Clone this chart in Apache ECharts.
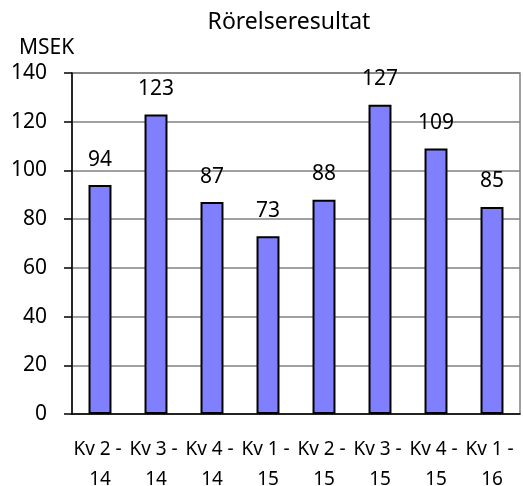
<!DOCTYPE html>
<html><head><meta charset="utf-8">
<script src="https://cdn.jsdelivr.net/npm/echarts@6/dist/echarts.min.js"></script>
<style>html,body{margin:0;padding:0;background:#fff}#c{width:523px;height:486px}</style>
</head><body><div id="c"></div>
<script>
const categories = ["Kv 2 - \n14","Kv 3 - \n14","Kv 4 - \n14","Kv 1 - \n15","Kv 2 - \n15","Kv 3 - \n15","Kv 4 - \n15","Kv 1 - \n16"];
const values = [94,123,87,73,88,127,109,85];
const yTicks = {min:0, max:140, interval:20};
const FONT = "Noto Sans";
const chart = echarts.init(document.getElementById('c'));
chart.setOption({
  animation:false,
  textStyle:{fontFamily:FONT},
  title:{text:"Rörelseresultat", left:284, textAlign:'center', top:6, textStyle:{fontFamily:FONT,fontSize:23,fontWeight:'normal',color:'#000'}},
  graphic:[{type:'text', left:19, top:38, style:{text:'MSEK', font:'21px "Noto Sans"', fill:'#000'}}],
  grid:{left:72, right:3, top:73, bottom:72, containLabel:false, outerBoundsMode:'none', show:true, borderColor:'#808080', borderWidth:1.5},
  xAxis:{type:'category', data:categories,
    axisLine:{lineStyle:{color:'#000',width:1.5}}, axisTick:{show:false},
    axisLabel:{color:'#000', fontSize:19, fontFamily:FONT, lineHeight:30, margin:21, interval:0}},
  yAxis:{type:'value', min:yTicks.min, max:yTicks.max, interval:yTicks.interval,
    axisLine:{show:true, lineStyle:{color:'#000',width:1.5}},
    axisTick:{show:true, length:8, lineStyle:{color:'#000',width:1.5}},
    splitLine:{lineStyle:{color:'#808080',width:1.5}},
    axisLabel:{color:'#000', fontSize:21, fontFamily:FONT, margin:25}},
  series:[{type:'bar', data:values, barWidth:'41%',
    itemStyle:{color:'#8080FF', borderColor:'#000', borderWidth:2},
    label:{show:true, position:'top', distance:15, color:'#000', fontSize:21, fontFamily:FONT}}]
});
</script></body></html>
